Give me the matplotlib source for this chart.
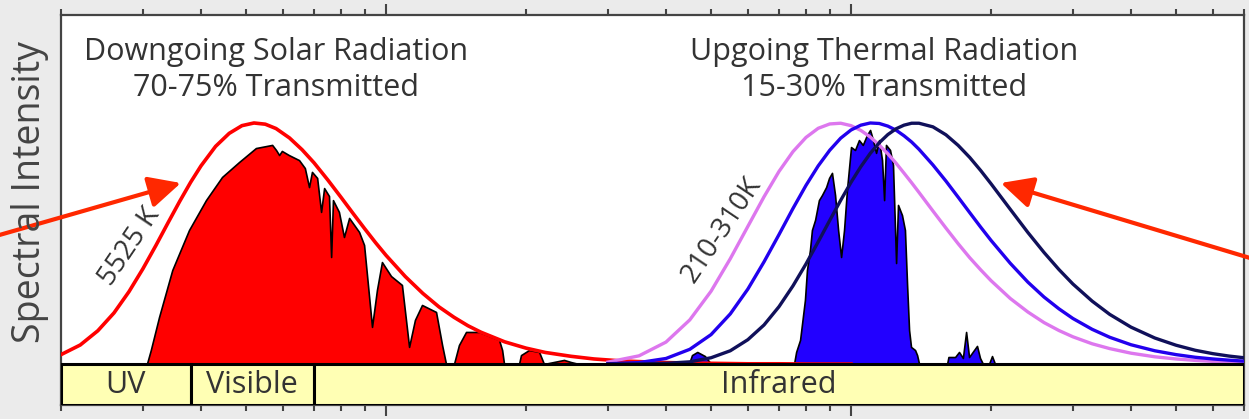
import matplotlib
matplotlib.use("Agg")
import matplotlib.pyplot as plt
from matplotlib.patches import Rectangle
from matplotlib.ticker import LogLocator, NullFormatter, NullLocator

# blackbody curves (normalised to peak), wavelength in micrometres
solar_wl = [0.2, 0.22, 0.24, 0.26, 0.28, 0.3, 0.32, 0.34, 0.36, 0.38, 0.4, 0.43, 0.46,
            0.49, 0.52, 0.55, 0.58, 0.62, 0.66, 0.7, 0.75, 0.8, 0.85, 0.9, 0.95, 1.0,
            1.1, 1.2, 1.3, 1.4, 1.5, 1.6, 1.8, 2.0, 2.2, 2.5, 2.8, 3.2, 3.6, 4.0, 4.5,
            5.0, 6.0, 7.0, 8.0, 10.0]
sun_5525 = [0.039, 0.079, 0.138, 0.212, 0.300, 0.395, 0.492, 0.587, 0.675, 0.754, 0.822,
            0.903, 0.957, 0.989, 1.000, 0.995, 0.977, 0.938, 0.889, 0.835, 0.763, 0.692,
            0.624, 0.561, 0.503, 0.451, 0.363, 0.293, 0.237, 0.194, 0.159, 0.132, 0.092,
            0.066, 0.048, 0.032, 0.021, 0.013, 0.009, 0.006, 0.004, 0.003, 0.001, 0.001,
            0.0, 0.0]

thermal_wl = [3.0, 3.5, 4.0, 4.5, 5.0, 5.5, 6.0, 6.5, 7.0, 7.5, 8.0, 8.5, 9.0, 9.5,
              10.0, 10.5, 11.0, 11.5, 12.0, 12.5, 13.0, 13.5, 14.0, 15.0, 16.0, 17.0,
              18.0, 19.0, 20.0, 22.0, 24.0, 26.0, 28.0, 30.0, 33.0, 36.0, 40.0, 45.0,
              50.0, 55.0, 60.0, 65.0, 70.0]
earth_310 = [0.008, 0.034, 0.091, 0.183, 0.302, 0.437, 0.571, 0.694, 0.799, 0.881, 0.940,
             0.978, 0.996, 0.999, 0.989, 0.969, 0.942, 0.908, 0.872, 0.833, 0.792, 0.752,
             0.712, 0.635, 0.564, 0.499, 0.441, 0.391, 0.346, 0.272, 0.216, 0.172, 0.139,
             0.113, 0.084, 0.064, 0.045, 0.030, 0.021, 0.015, 0.011, 0.008, 0.006]
earth_260 = [0.001, 0.006, 0.023, 0.061, 0.122, 0.208, 0.311, 0.424, 0.537, 0.645, 0.741,
             0.822, 0.887, 0.937, 0.971, 0.991, 1.000, 0.998, 0.987, 0.970, 0.947, 0.921,
             0.891, 0.826, 0.759, 0.692, 0.628, 0.568, 0.513, 0.418, 0.340, 0.278, 0.229,
             0.189, 0.144, 0.111, 0.080, 0.055, 0.039, 0.028, 0.021, 0.016, 0.012]
earth_210 = [0.0, 0.0, 0.003, 0.009, 0.026, 0.055, 0.101, 0.162, 0.238, 0.324, 0.415,
             0.507, 0.596, 0.679, 0.754, 0.819, 0.874, 0.918, 0.952, 0.976, 0.991, 0.999,
             0.999, 0.984, 0.951, 0.907, 0.857, 0.803, 0.748, 0.642, 0.546, 0.463, 0.392,
             0.332, 0.261, 0.206, 0.153, 0.108, 0.078, 0.057, 0.043, 0.033, 0.026]

# transmitted spectra
solar_tr_wl = [0.306, 0.312, 0.325, 0.347, 0.377, 0.410, 0.444, 0.483, 0.525, 0.569, 0.580,
               0.589, 0.597, 0.618, 0.650, 0.669, 0.683, 0.693, 0.711, 0.725, 0.736, 0.754,
               0.762, 0.769, 0.792, 0.812, 0.833, 0.875, 0.897, 0.933, 0.956, 0.980, 1.025,
               1.082, 1.121, 1.154, 1.195, 1.281, 1.320, 1.346, 1.400, 1.435, 1.486, 1.585,
               1.750, 1.777, 1.794, 1.932, 1.951, 2.030, 2.134, 2.186, 2.414, 2.50, 2.60, 3.0]
solar_tr = [0.0, 0.058, 0.195, 0.390, 0.556, 0.680, 0.776, 0.838, 0.896, 0.909, 0.888,
            0.867, 0.884, 0.867, 0.846, 0.813, 0.734, 0.797, 0.772, 0.631, 0.730, 0.697,
            0.444, 0.680, 0.631, 0.527, 0.606, 0.548, 0.494, 0.154, 0.307, 0.423, 0.365,
            0.328, 0.071, 0.183, 0.245, 0.216, 0.079, 0.0, 0.0, 0.079, 0.133, 0.133,
            0.100, 0.058, 0.0, 0.0, 0.037, 0.058, 0.050, 0.0, 0.017, 0.008, 0.0, 0.0]

thermal_tr_wl = [4.48, 4.55, 4.67, 4.85, 5.00, 7.54, 7.62, 7.77, 7.96, 8.04, 8.16, 8.24,
                 8.37, 8.53, 8.66, 8.84, 8.97, 9.10, 9.24, 9.38, 9.52, 9.66, 9.80, 10.0,
                 10.2, 10.4, 10.6, 10.82, 10.99, 11.15, 11.32, 11.49, 11.66, 11.78, 11.89,
                 12.13, 12.31, 12.50, 12.62, 12.87, 13.06, 13.20, 13.33, 13.46, 13.73, 13.87,
                 14.01, 16.09, 16.2, 16.74, 17.07, 17.4, 17.68, 17.94, 18.39, 18.66, 18.94,
                 19.22, 19.8, 20.1, 20.4]
thermal_tr = [0.0, 0.037, 0.050, 0.033, 0.0, 0.0, 0.050, 0.100, 0.266, 0.390, 0.473, 0.556,
              0.598, 0.680, 0.701, 0.734, 0.772, 0.793, 0.701, 0.556, 0.444, 0.556, 0.722,
              0.900, 0.888, 0.929, 0.909, 0.950, 0.971, 0.929, 0.876, 0.929, 0.846, 0.680,
              0.909, 0.888, 0.826, 0.419, 0.660, 0.618, 0.556, 0.328, 0.141, 0.071, 0.058,
              0.037, 0.0, 0.0, 0.029, 0.029, 0.050, 0.025, 0.133, 0.029, 0.058, 0.075, 0.025,
              0.0, 0.0, 0.033, 0.0]

bands = ["UV", "Visible", "Infrared"]
band_edges = [0.2, 0.38, 0.7, 70]

plt.rcParams["font.family"] = ["Open Sans", "DejaVu Sans"]
txt = "#333333"

fig = plt.figure(figsize=(12.49, 4.19), dpi=100, facecolor="#ebebeb")
ax = fig.add_axes([61 / 1249, 14 / 419, 1183 / 1249, 390 / 419])
ax.set_xscale("log")
ax.set_xlim(0.2, 70)
ax.set_ylim(-0.17, 1.448)

ax.fill_between(solar_tr_wl, solar_tr, 0, facecolor="#ff0000", edgecolor="black", lw=1.2, zorder=2)
ax.fill_between(thermal_tr_wl, thermal_tr, 0, facecolor="#2200ff", edgecolor="black", lw=1.2, zorder=2)
ax.plot(solar_wl, sun_5525, color="red", lw=2.6, zorder=3)
ax.plot(thermal_wl, earth_310, color="#dd77ee", lw=2.4, zorder=3)
ax.plot(thermal_wl, earth_260, color="#2200ee", lw=2.4, zorder=3)
ax.plot(thermal_wl, earth_210, color="#10105a", lw=2.4, zorder=3)

for name, a, b in zip(bands, band_edges[:-1], band_edges[1:]):
    ax.add_patch(Rectangle((a, -0.17), b - a, 0.17, facecolor="#ffffb4",
                           edgecolor="black", lw=2.2, zorder=4))
    ax.text((a * b) ** 0.5, -0.087, name, ha="center", va="center",
            fontsize=22, color=txt, zorder=5)

ax.text(0.182, 0.859, "Downgoing Solar Radiation\n70-75% Transmitted", transform=ax.transAxes,
        ha="center", va="center", fontsize=22, color=txt, linespacing=1.25)
ax.text(0.696, 0.859, "Upgoing Thermal Radiation\n15-30% Transmitted", transform=ax.transAxes,
        ha="center", va="center", fontsize=22, color=txt, linespacing=1.25)
ax.text(0.281, 0.485, "5525 K", rotation=56, ha="center", va="center", fontsize=20, color=txt)
ax.text(5.28, 0.556, "210-310K", rotation=56, ha="center", va="center", fontsize=20, color=txt)
fig.text(30 / 1249, 227 / 419, "Spectral Intensity", rotation=90, ha="center", va="center",
         fontsize=27, color="#444444")

arrow = dict(arrowstyle="-|>,head_length=0.65,head_width=0.32", color="#ff2800", lw=3,
             shrinkA=0, shrinkB=0, mutation_scale=30)
ax.annotate("", xy=(0.362, 0.751), xytext=(-0.01, 0.431), textcoords="figure fraction",
            arrowprops=arrow, annotation_clip=False)
ax.annotate("", xy=(21.0, 0.751), xytext=(1.01, 0.376), textcoords="figure fraction",
            arrowprops=arrow, annotation_clip=False)

ax.xaxis.set_major_locator(LogLocator(base=10))
ax.xaxis.set_minor_locator(LogLocator(base=10, subs=range(2, 10)))
ax.xaxis.set_major_formatter(NullFormatter())
ax.xaxis.set_minor_formatter(NullFormatter())
ax.yaxis.set_major_locator(NullLocator())
ax.tick_params(axis="x", which="both", top=True, bottom=True, direction="out",
               color="#444444", width=1.5)
ax.tick_params(axis="x", which="major", length=8)
ax.tick_params(axis="x", which="minor", length=4)
for s in ax.spines.values():
    s.set_color("#444444")
    s.set_linewidth(1.6)

fig.savefig("out.png", dpi=100, facecolor=fig.get_facecolor())
